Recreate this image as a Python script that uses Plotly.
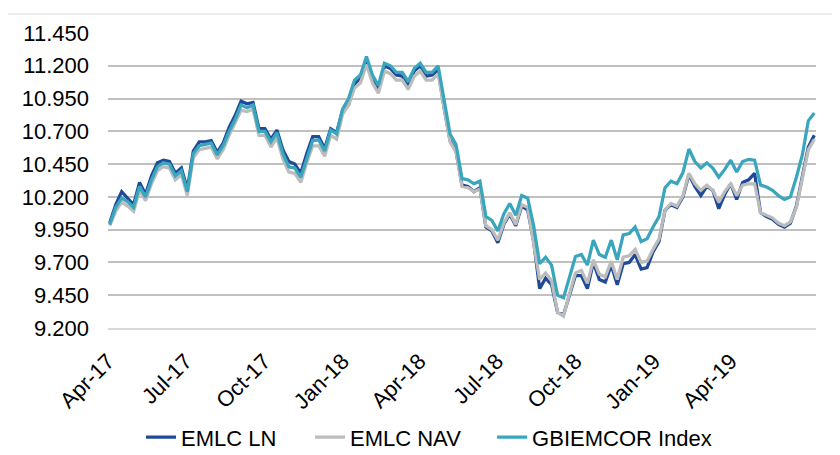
import pandas as pd
import plotly.graph_objects as go

# ---- data (weekly readings from the chart) ----
start_date = "2017-04-03"
n_points = 119
dates = pd.date_range(start_date, periods=n_points, freq="7D")

gbiemcor_index = [
    9.99, 10.12, 10.19, 10.165, 10.12, 10.28, 10.20, 10.33, 10.43, 10.46,
    10.45, 10.36, 10.40, 10.24, 10.53, 10.59, 10.60, 10.61, 10.52, 10.59,
    10.70, 10.79, 10.90, 10.88, 10.90, 10.70, 10.70, 10.62, 10.69, 10.53,
    10.43, 10.42, 10.35, 10.50, 10.63, 10.635, 10.55, 10.71, 10.68, 10.87,
    10.95, 11.09, 11.13, 11.27, 11.13, 11.05, 11.22, 11.20, 11.15, 11.15,
    11.08, 11.18, 11.22, 11.15, 11.15, 11.20, 10.93, 10.68, 10.60, 10.34,
    10.33, 10.30, 10.32, 10.05, 10.02, 9.94, 10.07, 10.15, 10.06, 10.21,
    10.19, 9.98, 9.69, 9.74, 9.68, 9.45, 9.43, 9.59, 9.745, 9.76,
    9.68, 9.87, 9.76, 9.74, 9.87, 9.72, 9.91, 9.92, 9.97, 9.86,
    9.88, 9.97, 10.05, 10.27, 10.32, 10.30, 10.385, 10.565, 10.47, 10.42,
    10.46, 10.42, 10.35, 10.41, 10.48, 10.39, 10.47, 10.485, 10.48, 10.29,
    10.275, 10.25, 10.21, 10.18, 10.20, 10.35, 10.52, 10.78, 10.84,
]

emlc_ln = [
    10.00, 10.14, 10.24, 10.19, 10.14, 10.31, 10.22, 10.36, 10.46, 10.48,
    10.47, 10.38, 10.42, 10.26, 10.55, 10.62, 10.62, 10.63, 10.54, 10.61,
    10.73, 10.82, 10.93, 10.91, 10.92, 10.72, 10.72, 10.64, 10.71, 10.56,
    10.47, 10.45, 10.38, 10.53, 10.66, 10.66, 10.57, 10.72, 10.69, 10.86,
    10.90, 11.06, 11.11, 11.24, 11.10, 11.02, 11.20, 11.18, 11.13, 11.12,
    11.04, 11.16, 11.20, 11.12, 11.13, 11.17, 10.88, 10.63, 10.55, 10.29,
    10.28, 10.24, 10.27, 9.97, 9.94, 9.85, 9.99, 10.07, 9.98, 10.13,
    10.10, 9.86, 9.50, 9.58, 9.53, 9.32, 9.30, 9.45, 9.60, 9.60,
    9.50, 9.70, 9.57, 9.55, 9.68, 9.53, 9.69, 9.70, 9.76, 9.65,
    9.66, 9.78, 9.86, 10.10, 10.14, 10.12, 10.20, 10.37, 10.28, 10.21,
    10.28, 10.25, 10.11, 10.22, 10.30, 10.18, 10.31, 10.33, 10.38, 10.08,
    10.05, 10.03, 9.99, 9.97, 10.00, 10.13, 10.37, 10.58, 10.67,
]

emlc_nav = [
    9.98, 10.09, 10.16, 10.13, 10.09, 10.25, 10.17, 10.30, 10.40, 10.43,
    10.42, 10.33, 10.37, 10.21, 10.50, 10.56, 10.57, 10.58, 10.49, 10.56,
    10.67, 10.76, 10.86, 10.85, 10.87, 10.67, 10.67, 10.58, 10.65, 10.49,
    10.39, 10.38, 10.31, 10.46, 10.59, 10.59, 10.51, 10.67, 10.64, 10.83,
    10.90, 11.03, 11.07, 11.21, 11.07, 10.99, 11.16, 11.14, 11.09, 11.09,
    11.02, 11.12, 11.16, 11.09, 11.09, 11.14, 10.87, 10.62, 10.54, 10.28,
    10.27, 10.24, 10.26, 9.98, 9.95, 9.87, 10.00, 10.08, 9.99, 10.14,
    10.12, 9.86, 9.57, 9.62, 9.56, 9.32, 9.29, 9.46, 9.62, 9.64,
    9.54, 9.72, 9.61, 9.59, 9.71, 9.57, 9.74, 9.75, 9.80, 9.70,
    9.71, 9.80, 9.88, 10.10, 10.15, 10.13, 10.21, 10.38, 10.30, 10.25,
    10.29, 10.25, 10.16, 10.24, 10.30, 10.21, 10.29, 10.30, 10.30, 10.08,
    10.06, 10.04, 10.00, 9.98, 10.01, 10.12, 10.34, 10.56, 10.64,
]

series_names = ["EMLC LN", "EMLC NAV", "GBIEMCOR Index"]
y_ticks = [9.2, 9.45, 9.7, 9.95, 10.2, 10.45, 10.7, 10.95, 11.2, 11.45]
x_ticks = ["2017-04-01", "2017-07-01", "2017-10-01", "2018-01-01", "2018-04-01",
           "2018-07-01", "2018-10-01", "2019-01-01", "2019-04-01"]

# ---- styling ----
colors = ["#1f4a98", "#bcbcbc", "#39a6bd"]
font_family = "Liberation Sans, Arial, sans-serif"
fsize = 22
legend_keys = ["legend", "legend2", "legend3"]
legend_x = [0.0466, 0.2853, 0.5425]

fig = go.Figure()
for name, vals, col, lk in zip(series_names, [emlc_ln, emlc_nav, gbiemcor_index],
                               colors, legend_keys):
    fig.add_trace(go.Scatter(
        x=dates, y=vals, name=name, mode="lines",
        line=dict(color=col, width=3.25), legend=lk,
    ))

legend_common = dict(
    orientation="h", xanchor="left", y=-0.371, yanchor="middle",
    font=dict(size=fsize, color="#000000", family=font_family),
    bgcolor="rgba(0,0,0,0)", borderwidth=0,
)
layout_legends = {lk: dict(x=lx, **legend_common) for lk, lx in zip(legend_keys, legend_x)}

# page body adds an 8px offset, so the figure is 8px smaller with shifted margins
fig.update_layout(
    width=832, height=447,
    margin=dict(l=100, r=24, t=25, b=127, autoexpand=False),
    paper_bgcolor="white", plot_bgcolor="white",
    font=dict(family=font_family, size=fsize, color="#000000"),
    showlegend=True,
    shapes=[dict(
        type="rect", xref="paper", yref="paper",
        x0=-0.1427, y0=-0.6, x1=1.2, y1=1.0645,
        line=dict(color="#d9d9d9", width=1), fillcolor="rgba(0,0,0,0)",
        layer="below",
    )],
    **layout_legends,
)

fig.update_xaxes(
    type="date",
    range=["2017-04-01", "2019-07-10"],
    tickvals=x_ticks,
    tickformat="%b-%y", tickangle=-45,
    showgrid=False, zeroline=False,
    showline=True, linecolor="#d9d9d9", linewidth=1.5,
    ticks="", ticklabelstandoff=10, automargin=False,
    tickfont=dict(size=fsize, family=font_family),
)
fig.update_yaxes(
    range=[9.2, 11.45],
    tickvals=y_ticks, tickformat=".3f",
    showgrid=True, gridcolor="#c0c0c0", gridwidth=1.5,
    zeroline=False, showline=False,
    ticks="", ticklabelstandoff=18, automargin=False,
    tickfont=dict(size=fsize, family=font_family),
)

fig.write_html("out.html")
